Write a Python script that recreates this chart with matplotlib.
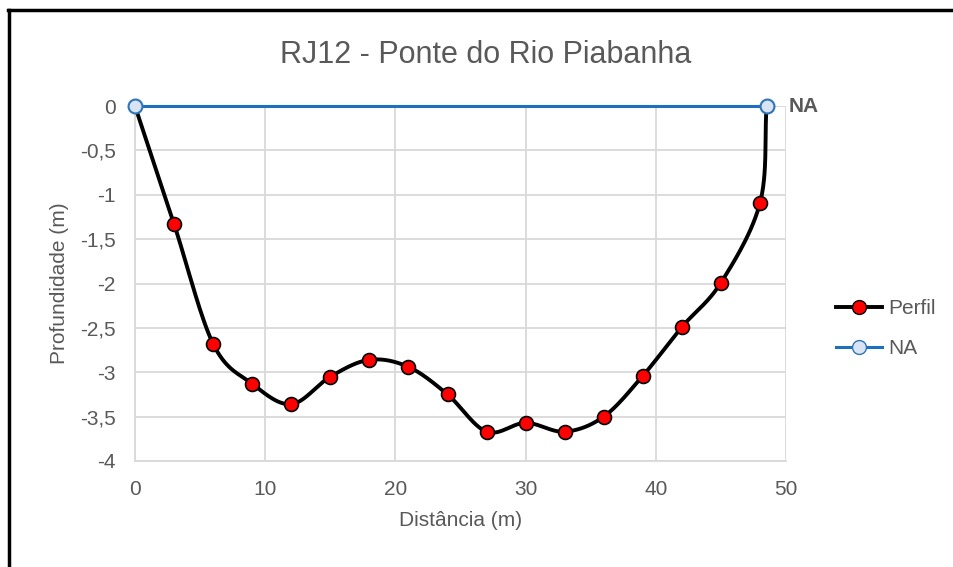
import numpy as np
import matplotlib
matplotlib.use('Agg')
import matplotlib.pyplot as plt
from matplotlib.lines import Line2D

plt.rcParams['font.family'] = ['Liberation Sans Narrow', 'Liberation Sans', 'DejaVu Sans']

# dados do perfil
distancia = [0, 3, 6, 9, 12, 15, 18, 21, 24, 27, 30, 33, 36, 39, 42, 45, 48, 48.5]
profundidade = [0, -1.33, -2.68, -3.13, -3.36, -3.05, -2.86, -2.94, -3.25, -3.67,
                -3.57, -3.67, -3.50, -3.04, -2.49, -1.99, -1.09, 0]
na_x = [0, 48.5]
na_y = [0, 0]

cinza = '#595959'


def suavizar(x, y, n=30):
    # curva tipo Excel (Catmull-Rom) so para desenhar a linha
    x = np.asarray(x, float)
    y = np.asarray(y, float)
    px = np.concatenate([[2 * x[0] - x[1]], x, [2 * x[-1] - x[-2]]])
    py = np.concatenate([[2 * y[0] - y[1]], y, [2 * y[-1] - y[-2]]])
    xs, ys = [], []
    t = np.linspace(0, 1, n)
    for i in range(1, len(px) - 2):
        for p, out in ((px, xs), (py, ys)):
            p0, p1, p2, p3 = p[i - 1], p[i], p[i + 1], p[i + 2]
            out.extend(0.5 * ((2 * p1) + (-p0 + p2) * t +
                              (2 * p0 - 5 * p1 + 4 * p2 - p3) * t ** 2 +
                              (-p0 + 3 * p1 - 3 * p2 + p3) * t ** 3))
    return np.array(xs), np.array(ys)


fig = plt.figure(figsize=(9.54, 5.67), dpi=100)
ax = fig.add_axes([0.1415, 0.187, 0.6825, 0.626])

sx, sy = suavizar(distancia, profundidade)
ax.plot(sx, sy, color='black', lw=2.8, zorder=3, solid_capstyle='round')
ax.plot(distancia[1:-1], profundidade[1:-1], 'o', color='red', mec='black',
        mew=1.2, ms=10, zorder=4)
ax.plot(na_x, na_y, color='#1f6fbf', lw=2.2, marker='o', ms=10,
        mfc='#dae3f3', mec='#2e75b6', mew=1.5, zorder=5, clip_on=False)
ax.annotate('NA', (na_x[-1], na_y[-1]), xytext=(16, 0), textcoords='offset points',
            va='center', ha='left', fontsize=15, fontweight='bold', color=cinza)

ax.set_xlim(0, 50)
ax.set_ylim(-4, 0)
ax.set_xticks(range(0, 51, 10))
ax.set_yticks(np.arange(-4, 0.01, 0.5))
ax.set_yticklabels([('%g' % v).replace('.', ',') for v in np.arange(-4, 0.01, 0.5)])
ax.grid(True, color='#d9d9d9', lw=1.3)
ax.set_axisbelow(True)
for s in ['top', 'right']:
    ax.spines[s].set_visible(False)
for s in ['left', 'bottom']:
    ax.spines[s].set_color('#d9d9d9')
    ax.spines[s].set_linewidth(1.3)
ax.tick_params(length=0, labelsize=15, labelcolor=cinza, pad=14)

fig.text(0.509, 0.903, 'RJ12 - Ponte do Rio Piabanha', fontsize=22, color=cinza,
         ha='center', va='center')
ax.set_xlabel('Distância (m)', fontsize=15, color=cinza, labelpad=8)
ax.set_ylabel('Profundidade (m)', fontsize=15, color=cinza, labelpad=8)

handles = [
    Line2D([], [], color='black', lw=2.8, marker='o', mfc='red', mec='black', ms=10),
    Line2D([], [], color='#1f6fbf', lw=2.2, marker='o', mfc='#dae3f3', mec='#2e75b6', ms=10),
]
fig.legend(handles, ['Perfil', 'NA'], loc='center left', bbox_to_anchor=(0.868, 0.42),
           frameon=False, fontsize=15, labelcolor=cinza, handlelength=2.2,
           handletextpad=0.3, labelspacing=1.0, borderaxespad=0)

# moldura
fig.add_artist(Line2D([0.008, 1.0], [0.982, 0.982], color='black', lw=2.5,
                      transform=fig.transFigure))
fig.add_artist(Line2D([0.0095, 0.0095], [0.0, 0.982], color='black', lw=2.5,
                      transform=fig.transFigure))

fig.savefig('out.png', dpi=100)
